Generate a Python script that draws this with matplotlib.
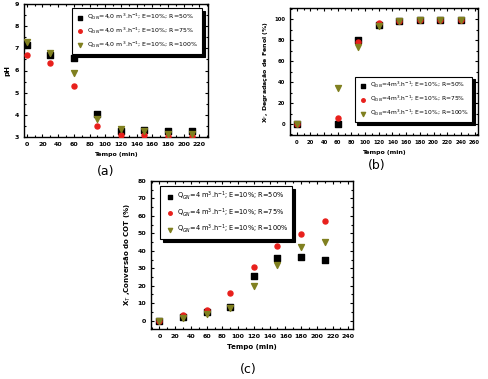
import matplotlib
matplotlib.use('Agg')
import matplotlib.pyplot as plt
from matplotlib.ticker import MultipleLocator

# tempo (min)
t_a = [0, 30, 60, 90, 120, 150, 180, 210]
ph_r50 = [7.15, 6.7, 6.55, 4.02, 3.25, 3.3, 3.25, 3.28]
ph_r75 = [6.7, 6.35, 5.32, 3.5, 3.1, 3.1, 3.05, 3.05]
ph_r100 = [7.28, 6.78, 5.9, 3.8, 3.35, 3.25, 3.15, 3.15]

t_b = [0, 60, 90, 120, 150, 180, 210, 240]
xf_r50 = [0, 0.5, 80, 95, 99, 99.5, 99.5, 99.5]
xf_r75 = [0, 6, 78, 97, 99, 99.5, 99.5, 99.5]
xf_r100 = [0, 34, 74, 94, 98.5, 99.5, 99.5, 99.5]

t_c = [0, 30, 60, 90, 120, 150, 180, 210]
xt_r50 = [0, 2, 5, 8, 25.5, 36, 36.5, 35]
xt_r75 = [0, 3, 6, 16, 30.5, 42.5, 49.5, 57]
xt_r100 = [0, 1.5, 4, 7.5, 20, 32, 42, 45]

lab_a = ['Q$_{GN}$=4,0 m$^3$.h$^{-1}$; E=10%; R=50%',
         'Q$_{GN}$=4,0 m$^3$.h$^{-1}$; E=10%; R=75%',
         'Q$_{GN}$=4,0 m$^3$.h$^{-1}$; E=10%; R=100%']
lab_b = ['Q$_{GN}$=4m$^3$.h$^{-1}$; E=10%; R=50%',
         'Q$_{GN}$=4m$^3$.h$^{-1}$; E=10%; R=75%',
         'Q$_{GN}$=4m$^3$.h$^{-1}$; E=10%; R=100%']
lab_c = ['Q$_{GN}$=4 m$^3$.h$^{-1}$; E=10%; R=50%',
         'Q$_{GN}$=4 m$^3$.h$^{-1}$; E=10%; R=75%',
         'Q$_{GN}$=4 m$^3$.h$^{-1}$; E=10%; R=100%']

W, H = 489, 379
fig = plt.figure(figsize=(W / 100, H / 100), dpi=100)


def box(l, r, t, b):
    return [l / W, 1 - b / H, (r - l) / W, (b - t) / H]


def style(ax, fs=4.5):
    ax.tick_params(which='both', direction='in', top=True, right=True,
                   labelsize=fs, width=0.8)
    ax.tick_params(which='major', length=2.5)
    ax.tick_params(which='minor', length=1.5)
    for s in ax.spines.values():
        s.set_linewidth(1.0)
    for lb in ax.get_xticklabels() + ax.get_yticklabels():
        lb.set_fontweight('bold')


def draw(ax, t, s1, s2, s3, labels, ms=13):
    ax.scatter(t, s1, marker='s', s=ms, color='black', label=labels[0], zorder=3)
    ax.scatter(t, s2, marker='o', s=ms, color='#e8201c', label=labels[1], zorder=3)
    ax.scatter(t, s3, marker='v', s=ms * 1.4, color='#808020', label=labels[2], zorder=3)


def shadow_legend(ax, loc, fs, anchor=None, spacing=0.75):
    leg = ax.legend(loc=loc, fontsize=fs, frameon=True, fancybox=False,
                    shadow={'color': 'black', 'alpha': 1}, edgecolor='black',
                    handletextpad=0.3, borderpad=0.6, labelspacing=spacing,
                    handlelength=1.6, markerscale=0.7, bbox_to_anchor=anchor)
    leg.get_frame().set_linewidth(0.8)
    return leg


# (a)
ax1 = fig.add_axes(box(24, 208, 4, 137))
draw(ax1, t_a, ph_r50, ph_r75, ph_r100, lab_a)
ax1.set_xlim(-3.5, 231)
ax1.set_ylim(3, 9)
ax1.xaxis.set_major_locator(MultipleLocator(20))
ax1.xaxis.set_minor_locator(MultipleLocator(10))
ax1.yaxis.set_major_locator(MultipleLocator(1))
ax1.yaxis.set_minor_locator(MultipleLocator(0.5))
ax1.set_xlabel('Tempo (min)', fontsize=4.5, fontweight='bold', labelpad=4)
ax1.set_ylabel('pH', fontsize=5, fontweight='bold', labelpad=3)
style(ax1)
shadow_legend(ax1, 'upper right', 4.5, (0.985, 0.99), 0.6)
fig.text(106 / W, 1 - 171 / H, '(a)', fontsize=9, ha='center', va='center')

# (b)
ax2 = fig.add_axes(box(290, 478, 8, 135))
draw(ax2, t_b, xf_r50, xf_r75, xf_r100, lab_b)
ax2.set_xlim(-9.8, 265)
ax2.set_ylim(-10.5, 111)
ax2.xaxis.set_major_locator(MultipleLocator(20))
ax2.xaxis.set_minor_locator(MultipleLocator(10))
ax2.yaxis.set_major_locator(MultipleLocator(20))
ax2.yaxis.set_minor_locator(MultipleLocator(10))
ax2.set_xlabel('Tempo (min)', fontsize=4.5, fontweight='bold', labelpad=4)
ax2.set_ylabel('X$_F$, Degradação de Fenol (%)', fontsize=4.5, fontweight='bold', labelpad=3)
style(ax2, 3.8)
shadow_legend(ax2, 'lower right', 4.3, (0.985, 0.08), 0.65)
fig.text(377 / W, 1 - 165 / H, '(b)', fontsize=9, ha='center', va='center')

# (c)
ax3 = fig.add_axes(box(151, 353, 181, 329))
draw(ax3, t_c, xt_r50, xt_r75, xt_r100, lab_c)
ax3.set_xlim(-10.7, 246)
ax3.set_ylim(-4.8, 80)
ax3.xaxis.set_major_locator(MultipleLocator(20))
ax3.xaxis.set_minor_locator(MultipleLocator(10))
ax3.yaxis.set_major_locator(MultipleLocator(10))
ax3.yaxis.set_minor_locator(MultipleLocator(5))
ax3.set_xlabel('Tempo (min)', fontsize=5, fontweight='bold', labelpad=4)
ax3.set_ylabel('X$_T$ ,Conversão do COT (%)', fontsize=5, fontweight='bold', labelpad=3)
style(ax3)
shadow_legend(ax3, 'upper left', 4.8, (0.03, 0.99), 0.6)
fig.text(248 / W, 1 - 369 / H, '(c)', fontsize=9, ha='center', va='center')

fig.savefig('out.png', dpi=100)
